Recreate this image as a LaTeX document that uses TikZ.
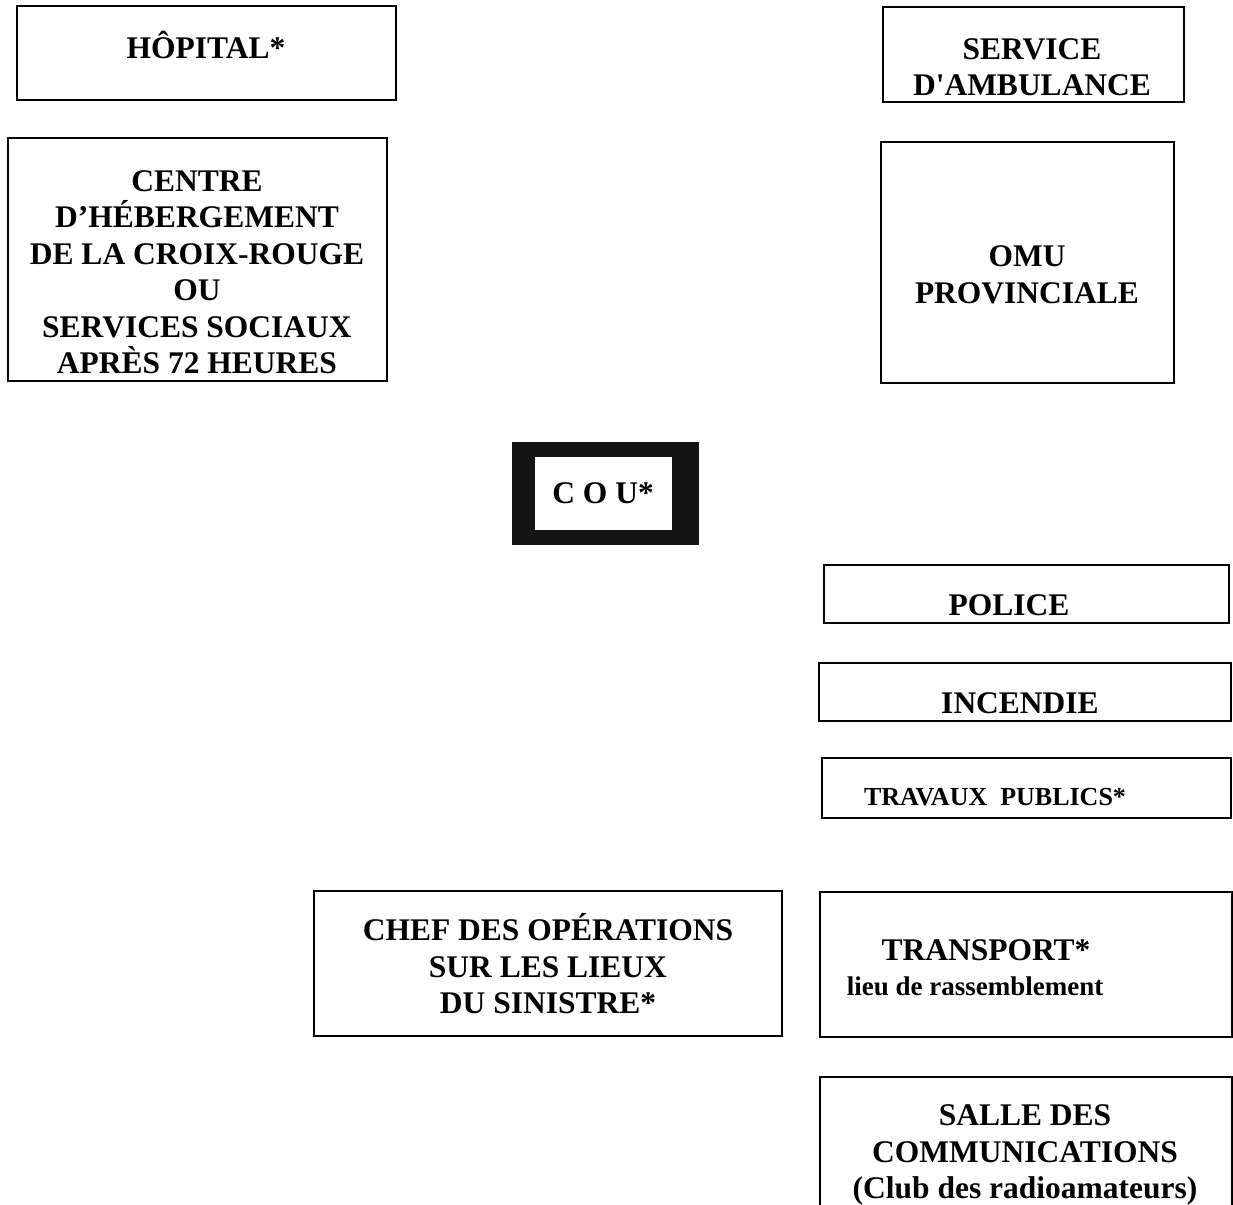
\documentclass[tikz,border=0pt]{standalone}
\usepackage{fontspec}
\setmainfont{Liberation Serif}[Ligatures=TeXOff]
\begin{document}
\begin{tikzpicture}[x=1pt,y=-1pt,
  box/.style={draw, line width=1.3pt, inner sep=0pt, outer sep=0pt, anchor=north west},
  lbl/.style={font=\fontsize{31.5}{36.5}\selectfont\bfseries, align=center, inner sep=0pt},
  small/.style={font=\fontsize{26}{30}\selectfont\bfseries, align=center, inner sep=0pt},
  lieu/.style={font=\fontsize{27}{31}\selectfont\bfseries, align=center, inner sep=0pt}]
\useasboundingbox (0,0) rectangle (1233,1204);
% boxes
\node[box, minimum width=379pt, minimum height=94pt] (hop) at (17,6) {};
\node[box, minimum width=379pt, minimum height=243pt] (ctr) at (8,138) {};
\node[box, minimum width=301pt, minimum height=95pt] (amb) at (883,7) {};
\node[box, minimum width=293pt, minimum height=241pt] (omu) at (881,142) {};
\node[box, minimum width=405pt, minimum height=58pt] (pol) at (824,565) {};
\node[box, minimum width=412pt, minimum height=58pt] (inc) at (819,663) {};
\node[box, minimum width=409pt, minimum height=60pt] (tra) at (822,758) {};
\node[box, minimum width=468pt, minimum height=145pt] (chef) at (314,891) {};
\node[box, minimum width=412pt, minimum height=145pt] (trn) at (820,892) {};
\node[box, minimum width=412pt, minimum height=150pt] (sal) at (820,1077) {};
% COU thick frame
\node[anchor=north west, fill=black!92, draw=none, inner sep=0pt, minimum width=187pt, minimum height=103pt] (couo) at (512,442) {};
\node[anchor=north west, fill=white, draw=none, inner sep=0pt, minimum width=137pt, minimum height=73pt] (coui) at (535,457) {};
% texts
\node[lbl] (thop) at (206,45) {HÔPITAL*};
\node[lbl] (tctr) at (197,272) {CENTRE\\D’HÉBERGEMENT\\DE LA CROIX-ROUGE\\OU\\SERVICES SOCIAUX\\APRÈS 72 HEURES};
\node[lbl] (tamb) at (1032,67) {SERVICE\\D'AMBULANCE};
\node[lbl] (tomu) at (1027,275) {OMU\\PROVINCIALE};
\node[lbl] (tcou) at (603,493) {C O U*};
\node[lbl] (tpol) at (1009,605) {POLICE};
\node[lbl] (tinc) at (1020,703) {INCENDIE};
\node[small] (ttra) at (995,797) {TRAVAUX\ \ PUBLICS*};
\node[lbl] (tchef) at (548,964) {CHEF DES OPÉRATIONS\\SUR LES LIEUX\\DU SINISTRE*};
\node[lbl] (ttrn) at (986,950) {TRANSPORT*};
\node[lieu] (tlieu) at (975,986) {lieu de rassemblement};
\node[lbl] (tsal) at (1025,1155) {SALLE DES\\COMMUNICATIONS\\(Club des radioamateurs)};
\end{tikzpicture}
\end{document}
